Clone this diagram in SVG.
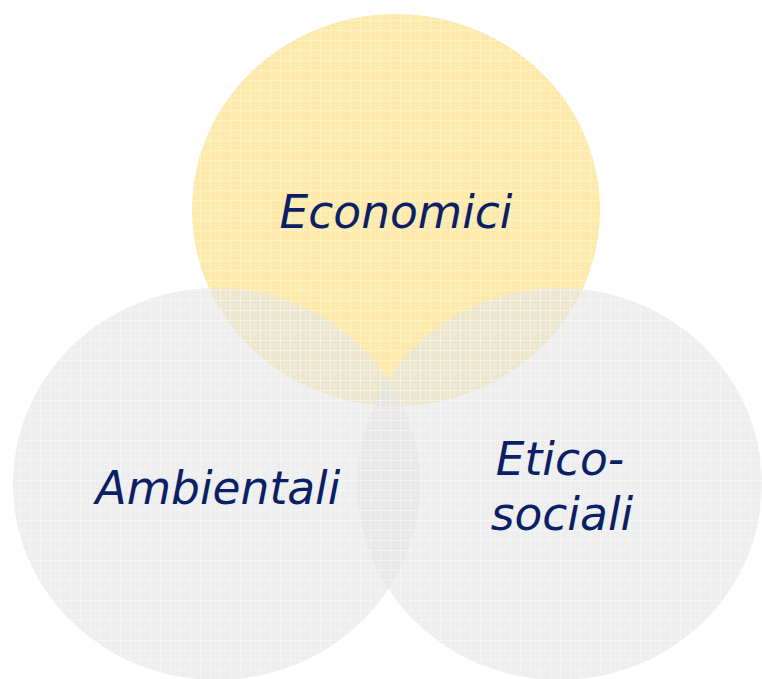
<svg xmlns="http://www.w3.org/2000/svg" width="762" height="679" viewBox="0 0 762 679">
  <style>
    .lbl { font-family: "DejaVu Sans", Verdana, sans-serif; font-style: italic; font-size: 45.5px; fill: #0b1f66; text-anchor: middle; }
    .gray { fill: #e4e4e4; fill-opacity: 0.62; }
    .yellow { fill: #fdeaab; }
    .tex { fill: url(#grid); }
  </style>
  <defs>
    <pattern id="grid" width="10" height="10" patternUnits="userSpaceOnUse">
      <rect x="0" y="0" width="10" height="1" fill="#ffffff" fill-opacity="0.35"/>
      <rect x="0" y="0" width="1" height="10" fill="#ffffff" fill-opacity="0.35"/>
      <rect x="4" y="4" width="2" height="2" fill="#ffffff" fill-opacity="0.2"/>
    </pattern>
  </defs>
  <rect width="762" height="679" fill="#ffffff"/>
  <g id="economici">
    <ellipse class="yellow" cx="396" cy="210" rx="204" ry="196"/>
    <ellipse class="tex" cx="396" cy="210" rx="204" ry="196"/>
  </g>
  <g id="ambientali">
    <ellipse class="gray" cx="216.5" cy="484" rx="203.5" ry="196"/>
    <ellipse class="tex" cx="216.5" cy="484" rx="203.5" ry="196"/>
  </g>
  <g id="etico-sociali">
    <ellipse class="gray" cx="559.5" cy="484" rx="202.5" ry="196"/>
    <ellipse class="tex" cx="559.5" cy="484" rx="202.5" ry="196"/>
  </g>
  <g id="labels">
    <text class="lbl" x="396" y="228">Economici</text>
    <text class="lbl" x="218" y="504">Ambientali</text>
    <text class="lbl" x="560" y="475">Etico-</text>
    <text class="lbl" x="562" y="530">sociali</text>
  </g>
  <g id="connectors"/>
</svg>
